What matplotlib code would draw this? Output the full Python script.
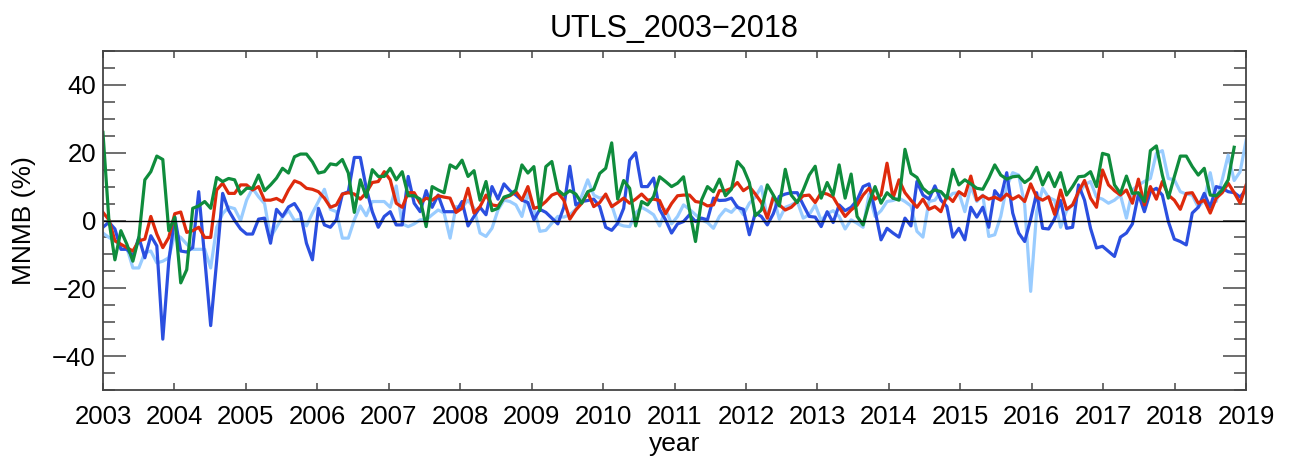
import numpy as np
import matplotlib
matplotlib.use("Agg")
import matplotlib.pyplot as plt
from matplotlib.ticker import MultipleLocator

plt.rcParams['font.family'] = ['Liberation Sans', 'DejaVu Sans']

# monthly MNMB (%) in the UTLS, Jan 2003 - Dec 2018
red = [2.4, 0.2, -6, -7, -8, -9, -6, -5.5, 1.2, -4, -8, -5, 2, 2.5, -3.5, -3,
       -2, -5, -5, 9, 11, 8, 8, 10.5, 10.5, 9, 10, 6, 6, 6.5, 5.5, 9,
       11.7, 11, 9.5, 9.2, 8.5, 6.6, 3.9, 4.6, 7.8, 8.2, 7.8, 6.3, 8.2, 11.2, 11.5, 14.4,
       12, 5.1, 3.9, 8.2, 8.2, 5.1, 6.6, 6, 7.3, 6.9, 6.6, 2.4, 3.6, 9.5, 2.2, 4.1,
       7.5, 4.6, 4.3, 6.6, 7.3, 8.5, 6, 10, 3.6, 4.1, 5.6, 7.5, 8.2, 6, 0.4, 3.1,
       5.1, 8.2, 4.1, 5.3, 7.8, 4.1, 5.3, 6.6, 5.1, 6.3, 7.8, 6, 6.3, 5.9, 2, 5,
       7.3, 7.5, 7.5, 5.6, 5.3, 4.3, 4.6, 8.8, 8.8, 9.5, 11.2, 8.8, 10, 7.8, 5.3, 0.7,
       6.9, 4.6, 3.1, 3.9, 5.6, 7.3, 7.5, 5.3, 8.2, 7.8, 6.9, 3.9, 1.2, 3.1, 4.5, 7.5,
       9.5, 6.3, 7.5, 16.9, 6.6, 12, 8.2, 6, 3.9, 6.3, 3.3, 4.1, 2.6, 7.3, 5.6, 8.5,
       7.3, 13.1, 6, 7.3, 6.3, 6.9, 6, 7.8, 6.3, 7.3, 5.6, 10.8, 6.9, 6, 7, 1.8,
       9, 3.3, 4.6, 8.5, 11.8, 6.6, 3.9, 14.9, 10.5, 8.8, 7.5, 9, 5.1, 12.2, 4.6, 10,
       6.3, 11.5, 7.5, 6, 3.3, 8, 8.2, 5.1, 6, 2.2, 6.6, 8.2, 11, 8.2, 5.1, 10.5]

green = [26, 0, -11.6, -3, -7, -12, -5, 12, 14.4, 19, 18, -3, 1, -18.4, -14.5, 3.6,
         4.3, 5.6, 3.6, 12.7, 11.5, 12.4, 12, 7.8, 9.5, 9.5, 13.4, 8.8, 10.5, 12.5, 15.4, 14,
         18.8, 19.6, 19.6, 17.3, 14, 14.4, 16.7, 16.4, 18, 14, 2.4, 12, 6.9, 15, 13, 13,
         15.4, 12, 14.4, 7.3, 7.3, 6.3, -1.8, 10, 9, 8.2, 16.4, 15.4, 17.8, 13, 14.7, 6,
         11.5, 2.9, 3.6, 6.9, 7.5, 9, 16.4, 14, 15.9, 2.9, 15.9, 17.4, 9, 7.5, 8.8, 7.8,
         5.1, 8.5, 9.2, 13.9, 15.4, 22.9, 6.3, 11.8, 9.5, -1.6, 5.6, 4.6, 7.1, 12.9, 11.5, 10,
         11, 12.9, 3.1, -6.2, 6, 10, 8.5, 12.2, 7.3, 9.2, 17.4, 15.4, 11.2, 1.4, 3.1, 10.5,
         7.5, 4.3, 15.1, 7.5, 5.3, 9, 13.4, 16, 6.6, 11.2, 7.5, 16.4, 6.6, 13.7, 1.2, -1.3,
         5.1, 10, 5.1, 8.2, 6.6, 6, 21, 13.9, 12.7, 9.5, 8, 9, 8.5, 6.6, 15.1, 10.5,
         12, 10.8, 9.5, 9.2, 12.5, 16.4, 13.4, 12.2, 12.9, 13.1, 11.2, 12.5, 15.7, 10.5, 14.1, 10,
         14.1, 7.5, 10, 12.9, 13.1, 14.4, 10, 19.8, 19.3, 10.5, 8, 13.1, 8, 8.2, 5.6, 20.6,
         22, 13.4, 6.6, 12.9, 19, 19, 15.9, 13.4, 15.4, 7.5, 7.3, 9, 12, 21.6]

blue = [-2, -0.5, -2.5, -8.5, -8.5, -10.5, -5, -11, -4.5, -7.5, -35, -12, 1, -9, -9.3, -8,
        8.5, -11, -31, -12, 8, 3, 0, -2.5, -4, -4, 0.4, 0.7, -6.7, 3.3, 1.2, 4,
        5, 2.2, -6.7, -11.6, 3.6, -1.3, -2, 0.2, 7.8, 8.5, 18.6, 18.6, 9.5, 2.6, -2, 1.2,
        2.6, -1.3, -1.3, 13, 5.1, 2.6, 8.8, 3.9, 7.5, 2.6, 2.6, 2.6, 5.6, -1.6, 1.2, 3.9,
        1.7, 10, 6.3, 10.8, 8.8, 7.5, 6, 5.3, 0.2, 3.3, 2.4, 0.7, -1, 3.9, 16, 4.6,
        5.6, 5.9, 6.3, 4.1, -2, -2.9, -0.8, 3.6, 17.8, 20, 10, 10, 12.5, 3.3, 0.2, -3.7,
        -1, -0.3, 1.7, -0.3, 0.7, 0.2, 6.6, 5.9, 6, 6.6, 3.9, 3.3, -4.2, 2.2, 1.2, -1.3,
        2, 7.1, 7.8, 8.2, 8.2, 4.6, 1.2, 1, -1.8, 2.6, -0.6, 4.6, 2.9, 3.9, 6, 10,
        10.8, 2.9, -5.7, -2.3, -3.7, -4.9, 0.7, -1.6, 11.5, 7.5, 6.3, 10.2, 6, 4.1, -4.9, -2.3,
        -5.7, 3.9, 1, 3.9, -2, 8.8, 6.6, 14.1, 2.2, -3.7, -6.2, 0.4, 8.2, -2.3, -2.5, 0.5,
        5.9, -2.3, -2, 10.5, 6, -2.3, -8.1, -7.6, -9.1, -10.6, -4.9, -3.7, -1, 7.8, 2.6, 8.5,
        9.5, 7.5, -0.3, -5.5, -6.2, -7.2, 2.2, 3.9, 8, 3.9, 10, 9.5, 8.5, 8.2, 6.9, 9.2]

lightblue = [-3.7, -5, -6, -7.5, -8, -14, -14, -9.5, -9, -12.5, -12, -11, -4, -5, -7, -8.5,
             -8.5, -8.5, -14, -2, 2, 4, 3.5, 0, 6, 9.5, 7, 5, -5, -2, 1, 3,
             0, 0.4, -1.6, 2.2, 5.6, 9.2, 3.3, 2.6, -5.2, -5.2, 0.2, 4.3, 1.4, 5.6, 5.6, 5.6,
             3.9, 10.2, -1, -1.8, -1, 0.2, 0.2, 1.7, 3.1, 2.2, -5.2, 4.1, 3.9, 6, 3.6, -3.7,
             -4.7, -2.3, 3.1, 6, 5.6, 4.6, 1.2, 8, 3.6, -3.2, -2.9, -0.8, 1.2, 1, 1.7, 3.3,
             7.3, 12, 7.5, 6.6, 7.1, 4.6, -1, -1.6, -1.8, 2.2, 3.9, 2.9, 1.7, -1.6, 3.3, -1,
             1.2, 4.6, 3.3, 1.7, 0.2, -0.6, -2.3, 1.2, 3.3, 2.4, 4.3, 1.7, 5.1, 6.9, 10, 0.7,
             7.3, 0.4, 3.9, 4.6, 5.6, 0.7, 1.7, 4.6, 0, 2, 2.9, 1.2, -2.5, 0.2, -0.8, -2,
             7.8, 1.2, 2.9, 5.6, 5.9, 6.6, 5.6, 4.3, -3.2, -4.9, 5.6, 6, 8.5, 6.3, 8, 8.2,
             2.6, 10, 5.6, 7.5, -4.7, -4.2, 1.2, 10, 14.1, 13.4, 4.6, -20.9, 2.6, 9.5, 6.8, 6,
             -2, 2.9, 4.6, 7.8, 10.5, 11.5, 6.9, 6.3, 5.1, 6, 7.5, 0.7, 9, 10.5, 11.5, 12.4,
             19.8, 20.6, 12.4, 12, 8.5, 7.8, 7.5, 3.9, 6, 14.1, 5.6, 12, 19.3, 11.8, 14.4, 23.7]

years = list(range(2003, 2020))

# time axis: 192 monthly samples stretched over 2003-2019
t = np.linspace(2003, 2019, len(red))

fig = plt.figure(figsize=(12.9, 4.57), dpi=100)
ax = fig.add_axes([0.0798, 0.1466, 0.8862, 0.7418])

lw = 2.3
ax.plot(t[:len(lightblue)], lightblue, color='#99ccff', lw=lw)
ax.plot(t[:len(blue)], blue, color='#2b4fe0', lw=lw)
ax.plot(t[:len(red)], red, color='#de2a0c', lw=lw)
ax.plot(t[:len(green)], green, color='#0f8c3c', lw=lw)
ax.axhline(0, color='black', lw=1)

ax.set_xlim(2003, 2019)
ax.set_ylim(-50, 50)
ax.set_xticks(years)
ax.set_yticks([-40, -20, 0, 20, 40])
ax.yaxis.set_minor_locator(MultipleLocator(5))

ax.tick_params(which='both', direction='in', top=True, right=True,
               color='#555555', width=1.2, labelsize=18.5)
ax.tick_params(axis='x', which='major', length=5, pad=11)
ax.tick_params(axis='y', which='major', length=16.5, pad=5)
ax.tick_params(axis='y', which='minor', length=8.6)
for s in ax.spines.values():
    s.set_color('#444444')
    s.set_linewidth(1.3)

ax.set_title("UTLS_2003\u22122018", fontsize=22, pad=10)
ax.set_xlabel("year", fontsize=19, labelpad=2)
ax.set_ylabel("MNMB (%)", fontsize=19, labelpad=12)

fig.savefig("out.png", dpi=100)
